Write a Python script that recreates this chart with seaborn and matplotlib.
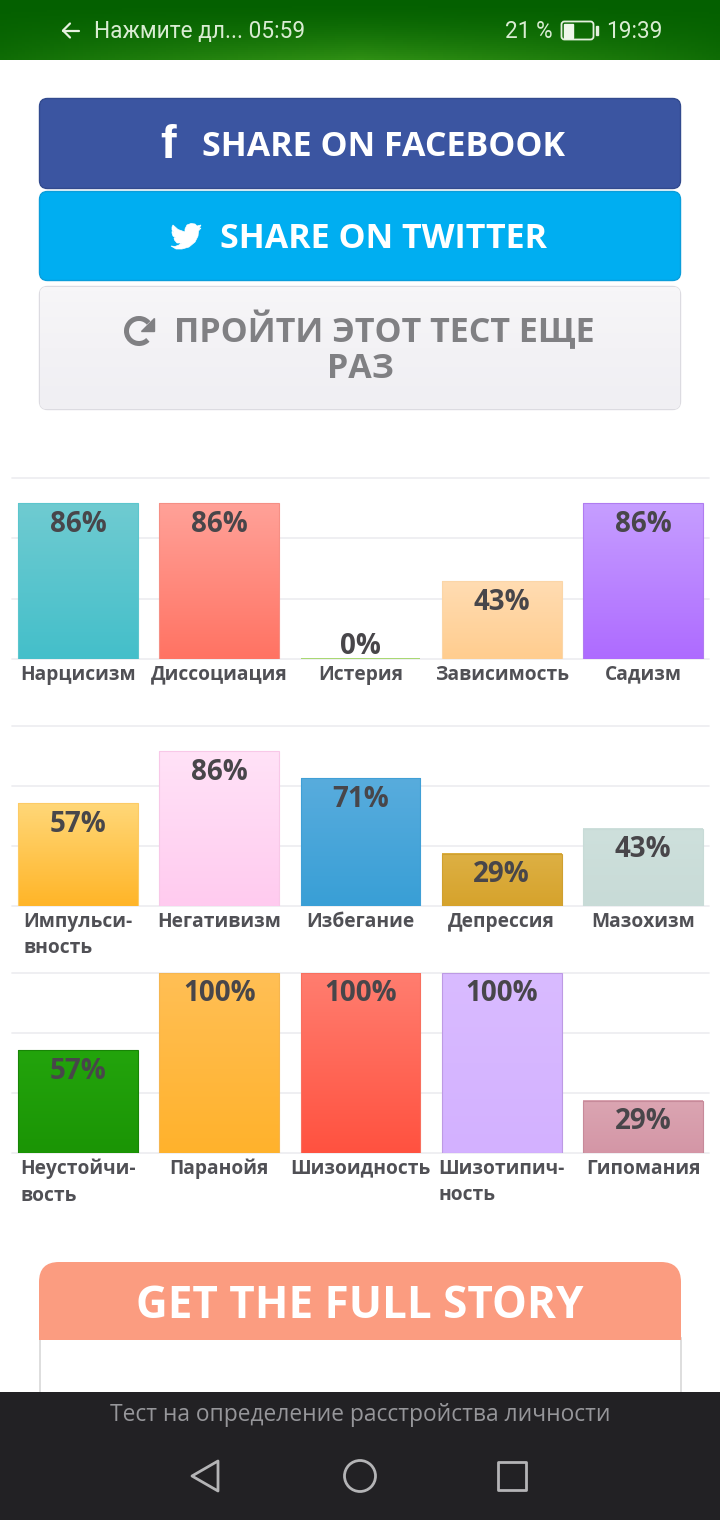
import numpy as np
import pandas as pd
import matplotlib
matplotlib.use("Agg")
import matplotlib.pyplot as plt
import seaborn as sns
from matplotlib.colors import LinearSegmentedColormap
from matplotlib.patches import FancyBboxPatch, Rectangle, Polygon, Circle, Arc

# Chart data
labels_1 = ["Нарцисизм", "Диссоциация", "Истерия", "Зависимость", "Садизм"]
values_1 = [86, 86, 0, 43, 86]
labels_2 = ["Импульси-\nвность", "Негативизм", "Избегание", "Депрессия", "Мазохизм"]
values_2 = [57, 86, 71, 29, 43]
labels_3 = ["Неустойчи-\nвость", "Паранойя", "Шизоидность", "Шизотипич-\nность", "Гипомания"]
values_3 = [57, 100, 100, 100, 29]

# Bar colours: top of gradient, bottom of gradient, edge
colors_1 = [("#6fcbd1", "#44bfca", "#5cc6cd"), ("#ffa198", "#ff7363", "#f58f85"),
            ("#a8d870", "#a8d870", "#a8d870"), ("#ffdcb2", "#ffcd8f", "#fbd6a8"),
            ("#c69eff", "#ae6bff", "#b07cf0")]
colors_2 = [("#ffd778", "#ffb528", "#fdcb66"), ("#ffe2f7", "#ffcbef", "#f8c8e8"),
            ("#58acdd", "#399fd6", "#409fd6"), ("#ddb044", "#d6a32c", "#cfa030"),
            ("#cee0dc", "#c8dbd7", "#c8dbd7")]
colors_3 = [("#23a40c", "#1b9505", "#188506"), ("#ffbf55", "#ffb22c", "#f5b650"),
            ("#ff7d6f", "#ff5240", "#f8705f"), ("#d9bbff", "#d3b1ff", "#bd9ae4"),
            ("#dba5b2", "#d496a6", "#c78a9a")]

sns.set_theme(style="whitegrid")
plt.rcParams["font.family"] = ["Open Sans", "DejaVu Sans"]

W, H = 720, 1520
fig = plt.figure(figsize=(W / 100, H / 100), dpi=100, facecolor="white")

# Page layer in pixel coordinates
ui = fig.add_axes([0, 0, 1, 1], zorder=0)
ui.set_xlim(0, W)
ui.set_ylim(H, 0)
ui.axis("off")


def button(x0, y0, x1, y1, face, edge, r=8, lw=1):
    box = FancyBboxPatch((x0 + r, y0 + r), x1 - x0 - 2 * r, y1 - y0 - 2 * r,
                         boxstyle=f"round,pad={r},rounding_size={r}",
                         facecolor=face, edgecolor=edge, linewidth=lw, zorder=1)
    ui.add_patch(box)
    return box


# Status bar
yy, xx = np.mgrid[0:1:30j, 0:1:200j]
glow = yy ** 1.6 * np.clip(1 - np.abs(xx - 0.5) * 1.7, 0, 1) ** 0.7
green = LinearSegmentedColormap.from_list("g", ["#046000", "#2f8f14"])
ui.imshow(glow, cmap=green, vmin=0, vmax=1, extent=(0, W, 60, 0), aspect="auto", zorder=1)
status = dict(color="#d9ecd2", fontsize=16.3, family="Roboto", va="center", zorder=3)
ui.plot([63, 79], [30.5, 30.5], color="#e6f2e0", lw=1.6, zorder=3)
ui.plot([70, 63, 70], [23.5, 30.5, 37.5], color="#e6f2e0", lw=1.6, zorder=3)
ui.text(94, 32, "Нажмите дл... 05:59", **status)
ui.text(505, 32, "21 %", **status)
ui.text(606, 32, "19:39", **status)
ui.add_patch(FancyBboxPatch((561.5, 21.5), 32, 18, boxstyle="round,pad=0,rounding_size=3",
                            facecolor="none", edgecolor="#e4f0de", lw=1.3, zorder=3))
ui.add_patch(Rectangle((563.5, 23.5), 9, 14, color="#eef6ea", zorder=3))
ui.add_patch(Rectangle((595.5, 26), 2, 9, color="#e4f0de", zorder=3))

# Share buttons
button(39.5, 98.5, 680.5, 188.5, "#3b55a1", "#324a8e")
button(39.5, 191.5, 680.5, 280.5, "#00aef1", "#0a9edb")
retake = button(39.5, 286.5, 680.5, 409.5, "#f3f2f5", "#dcdbe1")
shade = LinearSegmentedColormap.from_list("s", ["#f7f6f8", "#f3f2f5", "#f0eff3"])
img = ui.imshow(np.linspace(0, 1, 32)[:, None], cmap=shade, aspect="auto", zorder=1.5,
                extent=(40, 680, 409, 287))
img.set_clip_path(retake)
big = dict(ha="center", va="center", fontweight="bold", fontsize=24.5, zorder=3)
ui.text(168, 146, "f", color="white", family="Liberation Sans", ha="center", va="center",
        fontweight="bold", fontsize=34, zorder=3)
ui.text(384, 147, "SHARE ON FACEBOOK", color="white", **big)
ui.text(384, 239, "SHARE ON TWITTER", color="white", **big)
ui.text(384, 330, "ПРОЙТИ ЭТОТ ТЕСТ ЕЩЕ", color="#808083", **big)
ui.text(360, 369, "РАЗ", color="#808083", **big)

# Twitter bird
bird = [(173, 225), (178, 229.5), (185, 232), (185, 229), (187, 225), (191, 223.5), (195, 224),
        (197, 226), (201, 225), (199, 228.5), (201, 228), (198.5, 231), (198, 236), (195, 242),
        (189, 247), (182, 249), (176, 249), (171, 246), (175, 246.5), (179, 245), (181.5, 243),
        (177, 243), (174.5, 240), (174, 238), (176, 238), (173, 236), (172, 233), (172, 231.5),
        (174, 232.5), (172, 230), (172, 227)]
ui.add_patch(Polygon(bird, closed=True, facecolor="white", edgecolor="white", lw=0.5, zorder=3))

# Retake icon
ui.add_patch(Arc((139, 331), 25, 25, theta1=45, theta2=320, color="#808083", lw=3.6, zorder=3))
ui.add_patch(Polygon([(154, 318), (154, 331), (141, 331)], closed=True, color="#808083", zorder=3))

# Bar charts
gridcolor = "#eeeef1"
charts = [(labels_1, values_1, colors_1, 478, 659),
          (labels_2, values_2, colors_2, 726, 906),
          (labels_3, values_3, colors_3, 973, 1153)]
for labels, values, colors, top, base in charts:
    ax = fig.add_axes([12 / W, 1 - base / H, 697 / W, (base - top) / H], zorder=2)
    ax.patch.set_alpha(0)
    df = pd.DataFrame({"scale": labels, "percent": values})
    sns.barplot(data=df, x="scale", y="percent", width=0.848, color="white", ax=ax, zorder=2)
    ax.set_xlabel("")
    ax.set_ylabel("")
    ax.set_yticks(np.linspace(0, 100, 4))
    ax.set_yticklabels([])
    ax.grid(axis="x", visible=False)
    ax.grid(axis="y", color=gridcolor, lw=1.3)
    for line in ax.get_ygridlines():
        line.set_clip_on(False)
    ax.set_axisbelow(True)
    ax.tick_params(length=0, pad=4.2, axis="both")
    sns.despine(ax=ax, left=True, bottom=True)
    for tick in ax.get_xticklabels():
        tick.set_fontsize(13.8)
        tick.set_fontweight("bold")
        tick.set_color("#505055")
        tick.set_multialignment("left")
        tick.set_linespacing(1.42)
    for bar, val, (c_top, c_bot, c_edge) in zip(ax.patches, values, colors):
        x0, w = bar.get_x(), bar.get_width()
        bar.set_facecolor("none")
        bar.set_edgecolor(c_edge)
        bar.set_linewidth(0.8 if val > 0 else 1.4)
        bar.set_zorder(4)
        if val > 0:
            cmap = LinearSegmentedColormap.from_list("b", [c_top, c_bot])
            ax.imshow(np.linspace(0, 1, 64)[:, None], cmap=cmap, aspect="auto", zorder=3,
                      extent=(x0, x0 + w, 0, val))
        ax.annotate(f"{val}%", xy=(x0 + w / 2, val),
                    xytext=(0, -15 if val > 0 else 9), textcoords="offset points",
                    ha="center", va="center", fontsize=20, fontweight="bold",
                    color="#48464a", zorder=5, annotation_clip=False)
    ax.set_xlim(-66 / 141.25, 631 / 141.25)
    ax.set_ylim(0, 100)

# Full story card
ui.add_patch(Rectangle((39.5, 1338), 641, 70, facecolor="white", edgecolor="#d8d8d8", lw=1.2))
ui.add_patch(FancyBboxPatch((59, 1282), 602, 18, boxstyle="round,pad=20,rounding_size=20",
                            facecolor="#fb9c80", edgecolor="none"))
ui.add_patch(Rectangle((39, 1300), 642, 40, facecolor="#fb9c80", edgecolor="none"))
ui.text(360, 1306, "GET THE FULL STORY", color="white", ha="center", va="center",
        fontweight="bold", fontsize=31.7)

# Bottom bar
ui.add_patch(Rectangle((0, 1392), W, 128, facecolor="#222124", edgecolor="none", zorder=4))
ui.text(360, 1415, "Тест на определение расстройства личности", color="#96969a",
        ha="center", va="center", fontsize=16.4, zorder=5)
navcolor = "#b4b4b6"
ui.add_patch(Polygon([(218, 1461), (218, 1491), (192, 1476)], closed=True, fill=False,
                     edgecolor=navcolor, lw=2, joinstyle="round", zorder=5))
ui.add_patch(Circle((360, 1476), 15.5, fill=False, edgecolor=navcolor, lw=2, zorder=5))
ui.add_patch(Rectangle((498, 1462), 28, 28, fill=False, edgecolor=navcolor, lw=2,
                       joinstyle="round", zorder=5))

ui.set_xlim(0, W)
ui.set_ylim(H, 0)

fig.savefig("out.png", dpi=100)
